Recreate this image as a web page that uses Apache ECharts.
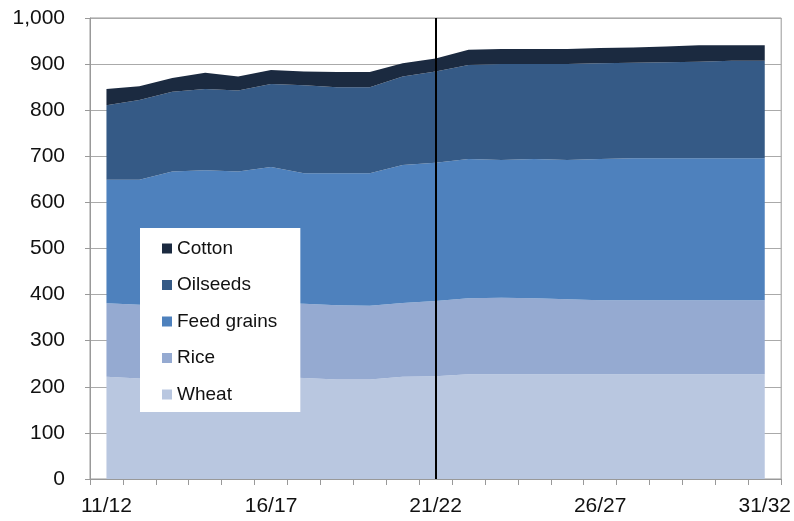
<!DOCTYPE html>
<html>
<head>
<meta charset="utf-8">
<script src="https://cdn.jsdelivr.net/npm/echarts@6/dist/echarts.min.js"></script>
<style>
  html, body { margin: 0; padding: 0; background: #fff; }
  #main { width: 794px; height: 521px; }
</style>
</head>
<body>
<div id="main"></div>
<script>
var years = ['11/12', '12/13', '13/14', '14/15', '15/16', '16/17', '17/18', '18/19', '19/20', '20/21',
    '21/22', '22/23', '23/24', '24/25', '25/26', '26/27', '27/28', '28/29', '29/30', '30/31', '31/32'];

var wheat = [222, 218, 220, 221, 220, 221, 219, 216, 216, 222, 223, 227, 227, 227, 227, 227, 227, 227, 227, 227, 227];
var rice = [159, 160, 160, 161, 160, 161, 161, 161, 160, 160, 163, 165, 166, 165, 163, 161, 161, 161, 161, 161, 161];
var feedGrains = [268, 271, 287, 288, 287, 295, 283, 286, 287, 299, 300, 302, 299, 302, 302, 306, 308, 308, 308, 308, 308];
var oilseeds = [162, 173, 173, 176, 176, 180, 191, 187, 187, 192, 198, 204, 208, 206, 208, 208, 207, 208, 209, 211, 211];
var cotton = [35, 30, 30, 35, 30, 30, 30, 33, 33, 29, 28, 33, 33, 33, 33, 33, 33, 34, 36, 34, 34];

var splitYear = '21/22';

var myChart = echarts.init(document.getElementById('main'));

function areaSeries(name, data, color) {
    return {
        name: name,
        type: 'line',
        stack: 'total',
        data: data,
        symbol: 'none',
        lineStyle: { width: 0 },
        itemStyle: { color: color },
        areaStyle: { color: color, opacity: 1 }
    };
}

var series = [
    areaSeries('Wheat', wheat, '#b9c7e0'),
    areaSeries('Rice', rice, '#95aad1'),
    areaSeries('Feed grains', feedGrains, '#4e81bd'),
    areaSeries('Oilseeds', oilseeds, '#355a86'),
    areaSeries('Cotton', cotton, '#1b2a40')
];

// vertical line marking the projection start
series[4].markLine = {
    silent: true,
    symbol: 'none',
    label: { show: false },
    lineStyle: { color: '#000', width: 2, type: 'solid' },
    data: [{ xAxis: splitYear }]
};

option = {
    backgroundColor: '#fff',
    animation: false,
    textStyle: { fontFamily: 'Liberation Sans, Arial, sans-serif' },
    grid: {
        left: 90,
        right: 12,
        top: 18,
        bottom: 42,
        show: true,
        borderColor: '#999',
        borderWidth: 1
    },
    legend: {
        orient: 'vertical',
        left: 140,
        top: 228,
        data: ['Cotton', 'Oilseeds', 'Feed grains', 'Rice', 'Wheat'],
        backgroundColor: '#fff',
        padding: [11, 23, 8, 22],
        itemWidth: 10,
        itemHeight: 10,
        itemGap: 17.5,
        icon: 'rect',
        textStyle: { fontSize: 19, color: '#111', lineHeight: 19 }
    },
    xAxis: {
        type: 'category',
        data: years,
        boundaryGap: true,
        axisLine: { lineStyle: { color: '#999' } },
        axisTick: { show: true, length: 6, lineStyle: { color: '#999' }, interval: 0 },
        axisLabel: { interval: 4, color: '#111', fontSize: 21, margin: 17 },
        splitLine: { show: false }
    },
    yAxis: {
        type: 'value',
        min: 0,
        max: 1000,
        interval: 100,
        axisLine: { show: true, lineStyle: { color: '#999' } },
        axisTick: { show: true, length: 5, lineStyle: { color: '#999' } },
        axisLabel: {
            color: '#111',
            fontSize: 21,
            margin: 25,
            formatter: function (v) { return v.toLocaleString('en-US'); }
        },
        splitLine: { show: true, lineStyle: { color: '#aaa' } }
    },
    series: series
};

myChart.setOption(option);
</script>
</body>
</html>
